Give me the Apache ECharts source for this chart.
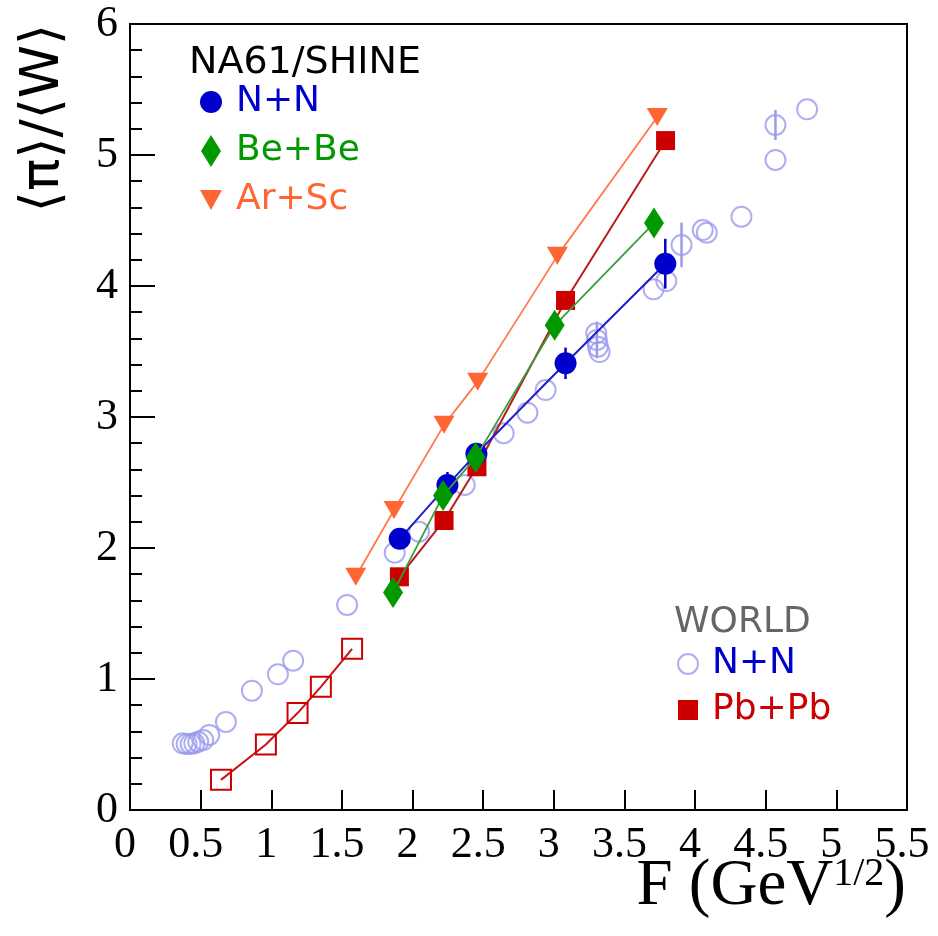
<!DOCTYPE html>
<html><head><meta charset="utf-8">
<script src="https://cdn.jsdelivr.net/npm/echarts@6/dist/echarts.min.js"></script>
<style>html,body{margin:0;padding:0;background:#fff}#c{width:938px;height:936px}</style>
</head><body><div id="c"></div>
<script>
// ---- data ----
const xTickValues = [0, 0.5, 1, 1.5, 2, 2.5, 3, 3.5, 4, 4.5, 5, 5.5];
const yTickValues = [0, 1, 2, 3, 4, 5, 6];

const nnF   = [1.909, 2.247, 2.452, 3.083, 3.789];
const nnY   = [2.07, 2.48, 2.72, 3.41, 4.17];
const nnErr = [0.03, 0.10, 0.04, 0.12, 0.19];

const bebeF = [1.862, 2.216, 2.447, 3.006, 3.709];
const bebeY = [1.66, 2.40, 2.69, 3.70, 4.48];

const arscF = [1.598, 1.869, 2.223, 2.461, 3.025, 3.732];
const arscY = [1.78, 2.29, 2.94, 3.27, 4.23, 5.29];

const pbpbF = [1.907, 2.223, 2.456, 3.083, 3.791];
const pbpbY = [1.78, 2.21, 2.62, 3.89, 5.11];

const agsF = [0.644, 0.962, 1.186, 1.351, 1.572];
const agsY = [0.23, 0.50, 0.74, 0.94, 1.23];

const worldF = [0.373, 0.401, 0.429, 0.455, 0.483, 0.518, 0.561, 0.679, 0.863, 1.047, 1.155,
                1.537, 1.874, 2.046, 2.369, 2.645, 2.813, 2.942, 3.300, 3.305, 3.312, 3.324,
                3.706, 3.796, 3.904, 4.054, 4.083, 4.328, 4.569, 4.569, 4.793];
const worldY = [0.509, 0.504, 0.504, 0.509, 0.521, 0.534, 0.573, 0.672, 0.911, 1.036, 1.140,
                1.565, 1.964, 2.124, 2.481, 2.876, 3.033, 3.206, 3.639, 3.588, 3.537, 3.496,
                3.975, 4.038, 4.313, 4.427, 4.407, 4.529, 4.962, 5.229, 5.349];
const worldErr = [0, 0, 0, 0, 0, 0, 0, 0, 0, 0, 0,
                  0, 0, 0, 0, 0, 0, 0, 0, 0.14, 0, 0,
                  0, 0, 0.17, 0, 0, 0, 0, 0.115, 0];

const xTitle = 'F (GeV{sup|1/2})';
const yTitle = '⟨π⟩/⟨W⟩';

// ---- helpers ----
const zip = (a, b) => a.map((v, i) => [v, b[i]]);
const zip3 = (a, b, c) => a.map((v, i) => [v, b[i], c[i]]);
const diamondPath = 'path://M10,0 L20,16 L10,32 L0,16 Z';
const triDownPath = 'path://M0,0 L20,0 L10,18 Z';

const C_NN = '#0000cc', C_BE = '#009900', C_AR = '#ff6633', C_PB = '#cc0000', C_WORLD = '#9a9aee';

function errBarSeries(name, F, Y, E, color, z) {
  return {
    name: name, type: 'custom', z: z, silent: true,
    data: zip3(F, Y, E),
    encode: { x: 0, y: 1 },
    renderItem: function (params, api) {
      const x = api.value(0), y = api.value(1), e = api.value(2);
      if (!e) return null;
      const p1 = api.coord([x, y - e]), p2 = api.coord([x, y + e]);
      return { type: 'line', shape: { x1: p1[0], y1: p1[1], x2: p2[0], y2: p2[1] },
               style: { stroke: color, lineWidth: 2.5 } };
    }
  };
}

const chart = echarts.init(document.getElementById('c'), null, { renderer: 'canvas' });
const SANS = 'DejaVu Sans';
const SERIF = 'Liberation Serif';

chart.setOption({
  animation: false,
  backgroundColor: '#fff',
  grid: { left: 130, right: 31, top: 24, bottom: 126, show: true, borderColor: '#000', borderWidth: 2,
          outerBoundsMode: 'none' },
  title: [
    { text: 'NA61/SHINE', left: 184, top: 39,
      textStyle: { fontFamily: SANS, fontSize: 38, fontWeight: 'normal', color: '#000' } },
    { text: 'WORLD', left: 669, top: 600,
      textStyle: { fontFamily: SANS, fontSize: 36, fontWeight: 'normal', color: '#666666' } }
  ],
  graphic: [
    { type: 'text', x: 44, y: 118, rotation: Math.PI / 2, silent: true,
      style: { text: yTitle, fontFamily: SANS, fontSize: 54, fill: '#000', align: 'center', verticalAlign: 'middle' } },
    { type: 'text', x: 906, y: 854, silent: true,
      style: { text: xTitle, fontFamily: SERIF, fontSize: 65, fill: '#000', align: 'right', verticalAlign: 'top',
               rich: { sup: { fontFamily: SERIF, fontSize: 40, verticalAlign: 'top', fill: '#000' } } } }
  ],
  legend: [
    { orient: 'vertical', left: 195, top: 79, itemWidth: 22, itemHeight: 32, itemGap: 13,
      selectedMode: false,
      textStyle: { fontFamily: SANS, fontSize: 36, padding: [0, 0, 0, 9] },
      data: [
        { name: 'N+N', icon: 'circle', textStyle: { color: C_NN } },
        { name: 'Be+Be', icon: diamondPath, textStyle: { color: C_BE } },
        { name: 'Ar+Sc', icon: triDownPath, textStyle: { color: C_AR } }
      ] },
    { orient: 'vertical', left: 672, top: 641, itemWidth: 20, itemHeight: 20, itemGap: 10,
      selectedMode: false,
      formatter: n => n.replace('WORLD ', ''),
      textStyle: { fontFamily: SANS, fontSize: 36, padding: [0, 0, 0, 9] },
      data: [
        { name: 'WORLD N+N', icon: 'circle', textStyle: { color: C_NN },
          itemStyle: { color: '#fff', borderColor: C_WORLD, borderWidth: 2 } },
        { name: 'WORLD Pb+Pb', icon: 'rect', textStyle: { color: C_PB },
          itemStyle: { color: C_PB, borderWidth: 0 } }
      ] }
  ],
  xAxis: {
    type: 'value', min: 0, max: 5.5, interval: 0.5,
    axisLine: { show: true, lineStyle: { color: '#000', width: 2 } },
    axisTick: { show: true, inside: true, length: 20, lineStyle: { color: '#000', width: 2 } },
    axisLabel: { fontFamily: SERIF, fontSize: 44, color: '#000', margin: 13,
                 padding: [0, 10, 0, 0], formatter: v => String(v) },
    splitLine: { show: false }
  },
  yAxis: {
    type: 'value', min: 0, max: 6, interval: 1,
    axisLine: { show: true, lineStyle: { color: '#000', width: 2 } },
    axisTick: { show: true, inside: true, length: 25, lineStyle: { color: '#000', width: 2 } },
    minorTick: { show: true, splitNumber: 5, length: 12, lineStyle: { color: '#000', width: 2 } },
    axisLabel: { fontFamily: SERIF, fontSize: 44, color: '#000', margin: 12,
                 padding: [6, 0, 0, 0], formatter: v => String(v) },
    splitLine: { show: false }
  },
  series: [
    { name: 'WORLD N+N', type: 'scatter', z: 2, symbol: 'circle', symbolSize: 20,
      itemStyle: { color: 'rgba(255,255,255,0)', borderColor: C_WORLD, borderWidth: 2 },
      data: zip(worldF, worldY) },
    errBarSeries('world err', worldF, worldY, worldErr, C_WORLD, 2),
    { name: 'Pb+Pb AGS', type: 'line', z: 3, symbol: 'rect', symbolSize: 20,
      itemStyle: { color: 'rgba(255,255,255,0)', borderColor: C_PB, borderWidth: 2 },
      lineStyle: { color: '#cc1111', width: 2 },
      data: zip(agsF, agsY) },
    { name: 'WORLD Pb+Pb', type: 'line', z: 4, symbol: 'rect', symbolSize: 19,
      itemStyle: { color: C_PB },
      lineStyle: { color: '#b81c1c', width: 2 },
      data: zip(pbpbF, pbpbY) },
    errBarSeries('nn err', nnF, nnY, nnErr, C_NN, 5),
    { name: 'N+N', type: 'line', z: 5, symbol: 'circle', symbolSize: 22,
      itemStyle: { color: C_NN },
      lineStyle: { color: '#1f1fcc', width: 2 },
      data: zip(nnF, nnY) },
    { name: 'Be+Be', type: 'line', z: 6, symbol: diamondPath, symbolSize: [20, 31],
      itemStyle: { color: C_BE },
      lineStyle: { color: '#3c9c3c', width: 1.8 },
      data: zip(bebeF, bebeY) },
    { name: 'Ar+Sc', type: 'line', z: 6, symbol: triDownPath, symbolSize: [21, 18],
      itemStyle: { color: C_AR },
      lineStyle: { color: '#ff7a4d', width: 1.8 },
      data: zip(arscF, arscY) }
  ]
});
</script>
</body></html>
